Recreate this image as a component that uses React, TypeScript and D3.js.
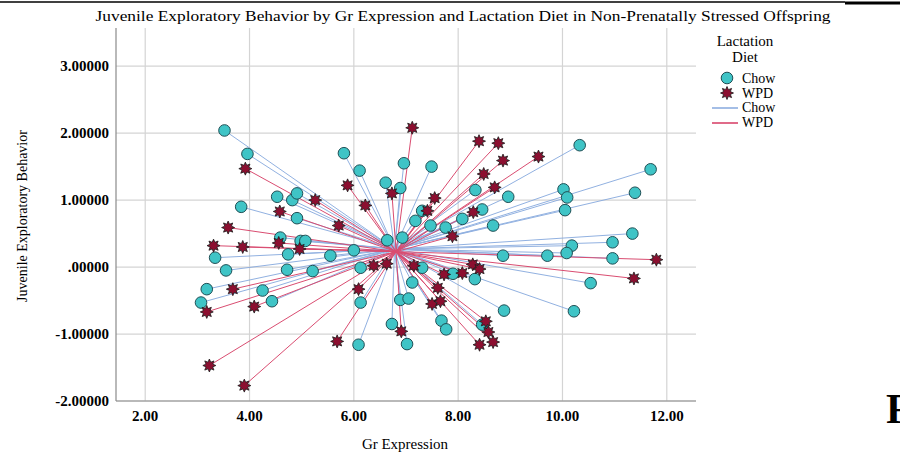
import React from "react";
import * as d3 from "d3";

// Chow (teal circles)
const chowX = [3.52, 3.96, 4.53, 4.82, 4.91, 3.84, 4.91, 4.59, 4.98, 3.34, 4.74, 3.55, 4.72, 3.18, 3.07, 4.25, 4.43,
  5.81, 6.11, 6.96, 7.49, 6.61, 6.89, 8.33, 7.31, 7.18, 8.08, 7.47, 7.76, 5.07, 5.55, 6.0, 6.64, 6.93, 8.46,
  5.21, 6.13, 6.13, 6.09, 7.12, 7.31, 6.89, 7.05, 6.73, 7.02, 7.68, 7.77, 7.9, 8.32, 8.46,
  10.33, 11.69, 11.39, 10.02, 10.09, 10.05, 8.96, 8.67, 11.34, 10.96, 10.18, 10.08, 10.96, 9.71, 8.86, 10.54, 8.88, 10.22];
const chowY = [2.04, 1.69, 1.05, 1.0, 1.1, 0.9, 0.73, 0.44, 0.39, 0.14, 0.19, -0.05, -0.04, -0.33, -0.53, -0.35, -0.51,
  1.7, 1.44, 1.55, 1.5, 1.26, 1.18, 1.15, 0.84, 0.69, 0.72, 0.62, 0.59, 0.39, 0.17, 0.25, 0.4, 0.44, 0.86,
  -0.06, -0.01, -0.53, -1.16, -0.23, -0.01, -0.49, -0.47, -0.85, -1.15, -0.8, -0.93, -0.1, -0.18, -0.86,
  1.82, 1.46, 1.11, 1.16, 1.04, 0.85, 1.05, 0.62, 0.5, 0.37, 0.32, 0.21, 0.13, 0.17, 0.17, -0.24, -0.65, -0.66];

// WPD (dark red stars)
const wpdX = [3.92, 4.58, 3.59, 3.31, 3.87, 4.56, 4.96, 3.68, 3.18, 4.09, 3.23, 3.9,
  7.12, 5.88, 6.22, 6.73, 7.55, 7.41, 5.26, 5.71, 8.29, 7.89,
  6.63, 6.38, 6.09, 5.68, 6.91, 7.15, 7.61, 7.5, 7.66, 7.73, 8.08, 8.28, 8.41,
  8.4, 8.77, 8.86, 9.54, 8.49, 8.7, 11.8, 11.37, 8.41, 8.53, 8.58, 8.67];
const wpdY = [1.47, 0.83, 0.59, 0.32, 0.3, 0.36, 0.27, -0.33, -0.67, -0.59, -1.47, -1.77,
  2.08, 1.22, 0.92, 1.1, 1.03, 0.84, 1.0, 0.62, 0.82, 0.46,
  0.05, 0.02, -0.33, -1.11, -0.96, 0.02, -0.31, -0.55, -0.51, -0.11, -0.09, 0.04, -1.16,
  1.88, 1.85, 1.59, 1.65, 1.39, 1.19, 0.11, -0.17, -0.03, -0.81, -0.97, -1.12];

// group centroids the spikes run to
const chowCentroid = [6.78, 0.27];
const wpdCentroid = [6.81, 0.23];

const xTicks = [2, 4, 6, 8, 10, 12];
const yTicks = [-2, -1, 0, 1, 2, 3];

const W = 900, H = 455;
const serif = "'Liberation Serif', 'Times New Roman', serif";

const teal = "#3fc4c6";
const tealStroke = "#1f4f55";
const wine = "#8c0f30";
const blueLine = "#86a9de";
const redLine = "#d63a62";

function starPath(r1: number, r2: number, n: number) {
  const pts = d3.range(n * 2).map(i => {
    const a = (Math.PI * i) / n - Math.PI / 2;
    const r = i % 2 === 0 ? r1 : r2;
    return [Math.cos(a) * r, Math.sin(a) * r] as [number, number];
  });
  return d3.line()(pts) + "Z";
}

export default function App() {
  const x = d3.scaleLinear().domain([1.44, 12.56]).range([116, 696]);
  const y = d3.scaleLinear().domain([-2, 3.57]).range([401, 28]);
  const star = starPath(6.5, 3.6, 8);

  const fmtY = (v: number) => {
    const s = v.toFixed(5);
    return s.replace(/^0\./, ".").replace(/^-0\./, "-.");
  };

  return (
    <svg width={W} height={H} style={{ position: "absolute", left: 0, top: 0, background: "#fff" }}>
      {/* page furniture */}
      <line x1={0} x2={845} y1={2} y2={2} stroke="#000" strokeWidth={1.5} />
      <line x1={845} x2={900} y1={3} y2={3} stroke="#000" strokeWidth={3} />
      <text x={886} y={423} fontFamily={serif} fontSize={42} fontWeight="bold">F</text>

      <text x={463} y={21} textAnchor="middle" fontFamily={serif} fontSize={15} textLength={735} lengthAdjust="spacingAndGlyphs">
        Juvenile Exploratory Behavior  by Gr Expression and Lactation Diet in Non-Prenatally Stressed Offspring
      </text>

      {/* grid */}
      {xTicks.map(t => (
        <line key={"gx" + t} x1={x(t)} x2={x(t)} y1={28} y2={401} stroke="#d4d4d4" strokeWidth={1.2} />
      ))}
      {yTicks.map(t => (
        <line key={"gy" + t} x1={116} x2={696} y1={y(t)} y2={y(t)} stroke="#d4d4d4" strokeWidth={1.2} />
      ))}
      <line x1={116} x2={116} y1={28} y2={401} stroke="#8a8a8a" strokeWidth={1.2} />
      <line x1={116} x2={696} y1={401} y2={401} stroke="#8a8a8a" strokeWidth={1.2} />

      {yTicks.map(t => (
        <text key={"ty" + t} x={109} y={y(t) + 5} textAnchor="end" fontFamily={serif} fontSize={15} fontWeight="bold">
          {fmtY(t)}
        </text>
      ))}
      {xTicks.map(t => (
        <text key={"tx" + t} x={x(t)} y={421} textAnchor="middle" fontFamily={serif} fontSize={15} fontWeight="bold">
          {t.toFixed(2)}
        </text>
      ))}
      <text x={405} y={449} textAnchor="middle" fontFamily={serif} fontSize={15}>Gr Expression</text>
      <text transform={`translate(27,216) rotate(-90)`} textAnchor="middle" fontFamily={serif} fontSize={14}>
        Juvenile Exploratory Behavior
      </text>

      {/* spikes */}
      <g strokeWidth={1} opacity={0.9}>
        {chowX.map((v, i) => (
          <line key={"cl" + i} x1={x(chowCentroid[0])} y1={y(chowCentroid[1])} x2={x(v)} y2={y(chowY[i])} stroke={blueLine} />
        ))}
        {wpdX.map((v, i) => (
          <line key={"wl" + i} x1={x(wpdCentroid[0])} y1={y(wpdCentroid[1])} x2={x(v)} y2={y(wpdY[i])} stroke={redLine} />
        ))}
      </g>

      {/* points */}
      {chowX.map((v, i) => (
        <circle key={"c" + i} cx={x(v)} cy={y(chowY[i])} r={5.8} fill={teal} stroke={tealStroke} strokeWidth={1} />
      ))}
      {wpdX.map((v, i) => (
        <path key={"w" + i} d={star} transform={`translate(${x(v)},${y(wpdY[i])})`} fill={wine} stroke="#1a1a1a" strokeWidth={0.8} />
      ))}

      {/* legend */}
      <text x={745} y={46} textAnchor="middle" fontFamily={serif} fontSize={15}>Lactation</text>
      <text x={745} y={62} textAnchor="middle" fontFamily={serif} fontSize={15}>Diet</text>
      <circle cx={727} cy={78} r={5.8} fill={teal} stroke={tealStroke} strokeWidth={1} />
      <text x={742} y={83} fontFamily={serif} fontSize={14}>Chow</text>
      <path d={star} transform="translate(727,93)" fill={wine} stroke="#1a1a1a" strokeWidth={0.8} />
      <text x={742} y={98} fontFamily={serif} fontSize={14}>WPD</text>
      <line x1={712} x2={738} y1={108} y2={108} stroke={blueLine} strokeWidth={1.5} />
      <text x={742} y={112} fontFamily={serif} fontSize={14}>Chow</text>
      <line x1={712} x2={738} y1={123} y2={123} stroke={redLine} strokeWidth={1.5} />
      <text x={742} y={127} fontFamily={serif} fontSize={14}>WPD</text>
    </svg>
  );
}
